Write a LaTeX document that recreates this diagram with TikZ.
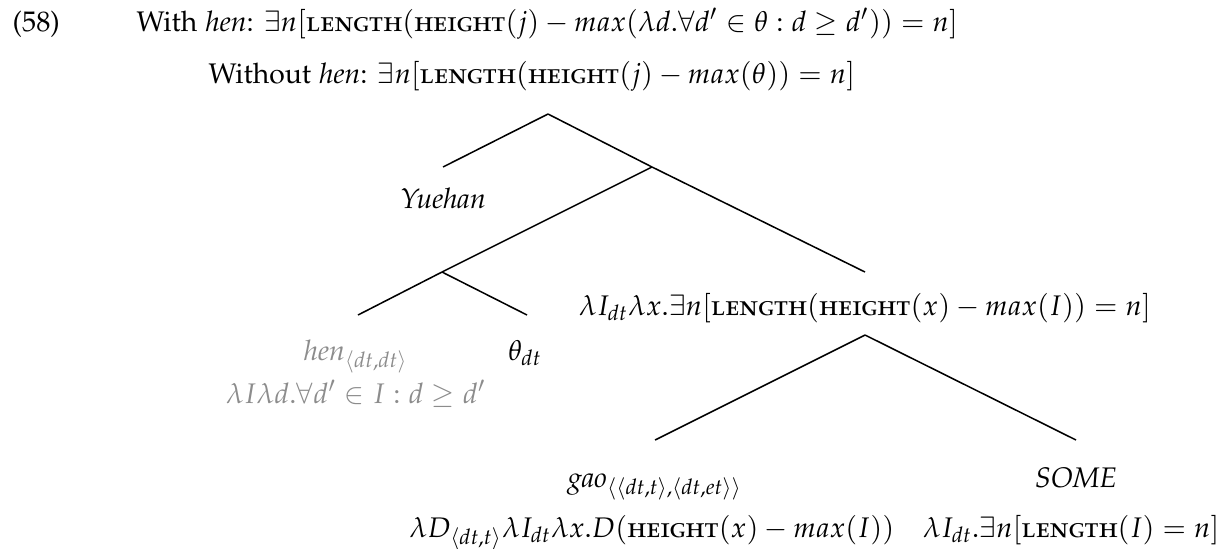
\documentclass[tikz,border=0pt]{standalone}
\usepackage[T1]{fontenc}
\usepackage[sc]{mathpazo}
\usepackage{amsmath}
\usetikzlibrary{positioning}
\definecolor{hengrey}{HTML}{8C8C8C}
\newcommand{\lenf}{\textsc{length}}
\newcommand{\hgtf}{\textsc{height}}
\tikzset{
  every picture/.style={line width=0.5pt, x=0.01266cm, y=-0.01266cm},
  lbl/.style={inner sep=0pt, font=\fontsize{10.2}{12}\selectfont},
  greylbl/.style={lbl, text=hengrey},
  branch/.style={draw=black, line width=0.55pt},
}
\begin{document}
\begin{tikzpicture}
  \useasboundingbox (0,0) rectangle (1224,548);
  % example number and the two readings
  \node[lbl, anchor=base west] (ex) at (12,31) {(58)};
  \node[lbl, anchor=base west] (withhen) at (136,31) {With \textit{hen}: $\exists n[\lenf(\hgtf(j) - max(\lambda d.\forall d' \in \theta : d \geq d')) = n]$};
  \node[lbl, anchor=base west] (without) at (208,83) {Without \textit{hen}: $\exists n[\lenf(\hgtf(j) - max(\theta)) = n]$};
  % tree junctions
  \coordinate (root) at (548,114);
  \coordinate (vp) at (652,167);
  \coordinate (degp) at (442,272);
  \coordinate (apt) at (865,335);
  % leaf tops
  \coordinate (yuehan-top) at (443,167);
  \coordinate (hen-top) at (358,315);
  \coordinate (theta-top) at (527,315);
  \coordinate (apt-top) at (865,272);
  \coordinate (gao-top) at (655,440);
  \coordinate (some-top) at (1076,440);
  % labels
  \node[lbl, anchor=base] (yuehan) at (443,208) {\textit{Yuehan}};
  \node[greylbl, anchor=base] (hen) at (356,360) {\textit{hen}$_{\langle dt,dt\rangle}$};
  \node[greylbl, anchor=base] (hensem) at (356,403) {$\lambda I\lambda d.\forall d' \in I : d \geq d'$};
  \node[lbl, anchor=base] (theta) at (525,360) {$\theta_{dt}$};
  \node[lbl, anchor=base] (aptsem) at (865,315) {$\lambda I_{dt}\lambda x.\exists n[\lenf(\hgtf(x) - max(I)) = n]$};
  \node[lbl, anchor=base] (gao) at (655,487) {\textit{gao}$_{\langle\langle dt,t\rangle,\langle dt,et\rangle\rangle}$};
  \node[lbl, anchor=base] (some) at (1076,487) {\textit{SOME}};
  \node[lbl, anchor=base] (gaosem) at (652,537) {$\lambda D_{\langle dt,t\rangle}\lambda I_{dt}\lambda x.D(\hgtf(x) - max(I))$};
  \node[lbl, anchor=base east] (somesem) at (1220,537) {$\lambda I_{dt}.\exists n[\lenf(I) = n]$};
  % branches
  \draw[branch] (root) -- (yuehan-top);
  \draw[branch] (root) -- (vp);
  \draw[branch] (vp) -- (degp);
  \draw[branch] (vp) -- (apt-top);
  \draw[branch] (degp) -- (hen-top);
  \draw[branch] (degp) -- (theta-top);
  \draw[branch] (apt) -- (gao-top);
  \draw[branch] (apt) -- (some-top);
\end{tikzpicture}
\end{document}
